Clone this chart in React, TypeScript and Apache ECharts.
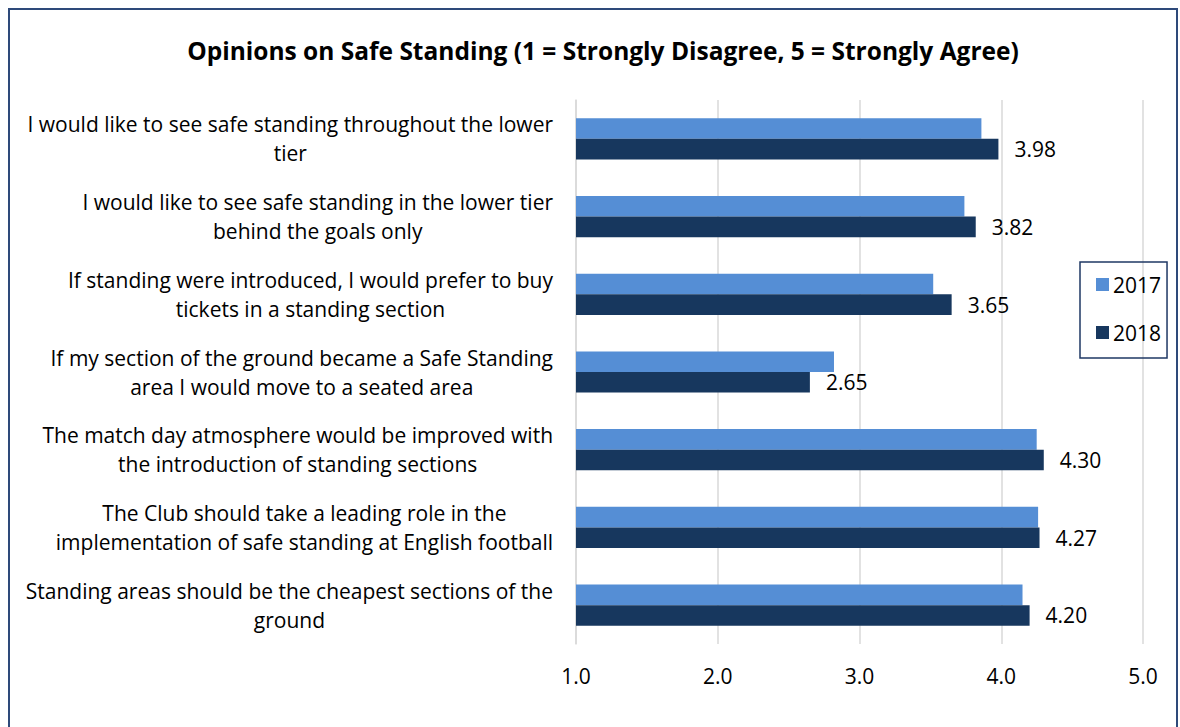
import React, { useEffect, useRef } from "react";
import * as echarts from "echarts";

const categories = [
  "I would like to see safe standing throughout the lower\ntier",
  "I would like to see safe standing in the lower tier\nbehind the goals only",
  "If standing were introduced, I would prefer to buy\ntickets in a standing section",
  "If my section of the ground became a Safe Standing\narea I would move to a seated area",
  "The match day atmosphere would be improved with\nthe introduction of standing sections",
  "The Club should take a leading role in the\nimplementation of safe standing at English football",
  "Standing areas should be the cheapest sections of the\nground",
];
const values2017 = [3.86, 3.74, 3.52, 2.82, 4.25, 4.26, 4.15];
const values2018 = [3.98, 3.82, 3.65, 2.65, 4.3, 4.27, 4.2];
const xTicks = [1, 2, 3, 4, 5];

const FONT = "Open Sans";

export default function App() {
  const ref = useRef<HTMLDivElement>(null);
  useEffect(() => {
    const chart = echarts.init(ref.current!, null, { renderer: "svg" });
    chart.setOption({
      animation: false,
      backgroundColor: "#ffffff",
      title: {
        text: "Opinions on Safe Standing (1 = Strongly Disagree, 5 = Strongly Agree)",
        left: 598,
        top: 33,
        textAlign: "center",
        textStyle: { fontFamily: FONT, fontWeight: "bold", fontSize: 24.5, color: "#000" },
      },
      graphic: [
        {
          type: "rect",
          shape: { x: 9, y: 9, width: 1168, height: 740 },
          style: { fill: "none", stroke: "#2E4A7A", lineWidth: 2 },
          silent: true,
        },
      ],
      legend: {
        orient: "vertical",
        left: 1080,
        top: 262,
        data: ["2017", "2018"],
        icon: "rect",
        itemWidth: 13,
        itemHeight: 13,
        itemGap: 27,
        padding: [12, 6, 15, 16],
        borderColor: "#1F3864",
        borderWidth: 1.5,
        textStyle: { fontFamily: FONT, fontSize: 21, color: "#000", padding: [0, 0, 0, -1] },
      },
      grid: { left: 576, right: 37, top: 100, bottom: 83, containLabel: false },
      xAxis: {
        type: "value",
        min: xTicks[0],
        max: xTicks[xTicks.length - 1],
        interval: 1,
        axisLine: { show: false },
        axisTick: { show: false },
        splitLine: { show: true, lineStyle: { color: "#D9D9D9", width: 1.5 } },
        axisLabel: {
          margin: 21,
          fontFamily: FONT,
          fontSize: 21,
          color: "#000",
          formatter: (v: number) => v.toFixed(1),
        },
      },
      yAxis: {
        type: "category",
        data: categories,
        inverse: true,
        axisLine: { show: true, lineStyle: { color: "#D9D9D9", width: 1.5 } },
        axisTick: { show: false },
        axisLabel: {
          margin: 23,
          formatter: (v: string) =>
            v
              .split("\n")
              .map((l) => `{c|${l}}`)
              .join("\n"),
          rich: {
            c: { align: "center", fontFamily: FONT, fontSize: 21, lineHeight: 29, color: "#000" },
          },
        },
      },
      series: [
        {
          name: "2017",
          type: "bar",
          data: values2017,
          barGap: "0%",
          barCategoryGap: "47%",
          itemStyle: { color: "#558ED5" },
        },
        {
          name: "2018",
          type: "bar",
          data: values2018,
          barGap: "0%",
          barCategoryGap: "47%",
          itemStyle: { color: "#17375E" },
          label: {
            show: true,
            position: "right",
            distance: 16,
            fontFamily: FONT,
            fontSize: 21,
            color: "#000",
            formatter: (p: any) => Number(p.value).toFixed(2),
          },
        },
      ],
    });
    return () => chart.dispose();
  }, []);
  return (
    <div
      ref={ref}
      style={{ position: "absolute", left: 0, top: 0, width: 1180, height: 727 }}
    />
  );
}
